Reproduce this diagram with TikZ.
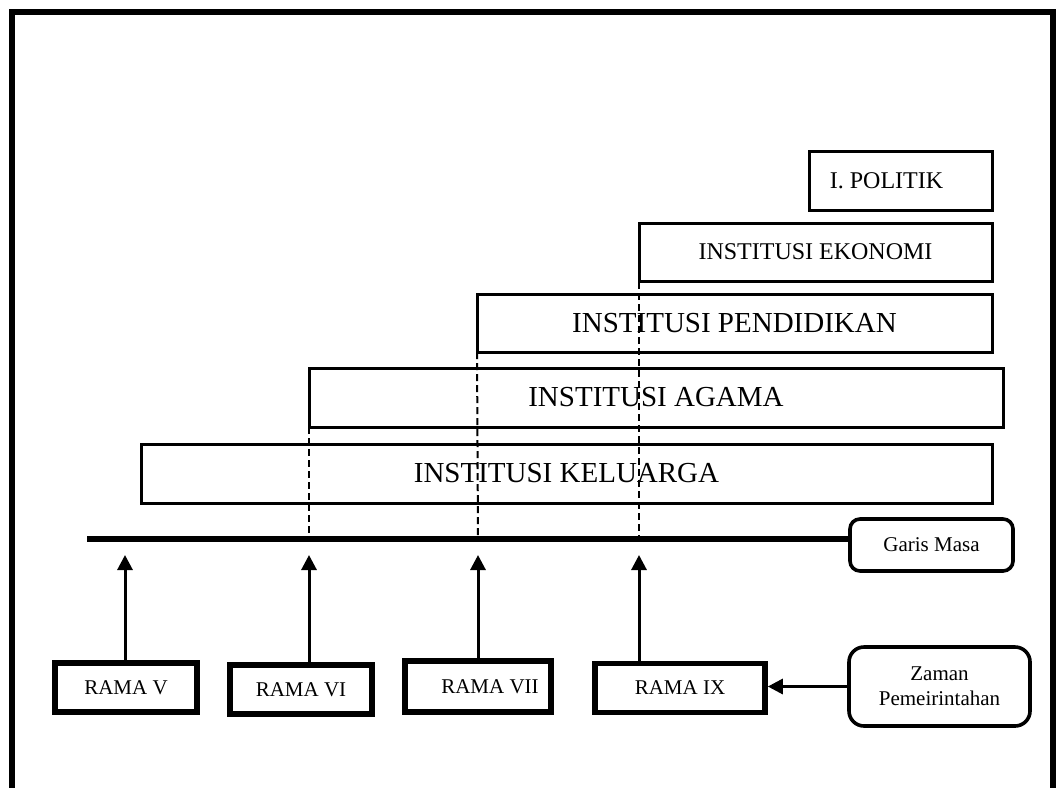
\documentclass[tikz,border=0pt]{standalone}
\usepackage{fontspec}
\setmainfont{Liberation Serif}
\usepackage{tikz}
\usetikzlibrary{arrows.meta,calc}

\begin{document}
\begin{tikzpicture}[x=0.5pt,y=-0.5pt,
  inst/.style={draw,line width=1.5pt,inner sep=0pt,outer sep=0pt,
    font=\fontsize{14.5}{17}\selectfont},
  rama/.style={draw,line width=2.8pt,minimum height=24.5pt,inner sep=0pt,
    font=\fontsize{10.5}{12}\selectfont},
  note/.style={draw,line width=1.8pt,inner sep=0pt,align=center,
    font=\fontsize{10.5}{12.5}\selectfont},
  up/.style={line width=1.5pt,-{Triangle[width=7.5pt,length=7.5pt]}},
  guide/.style={dash pattern=on 3.5pt off 2pt,line width=1pt}]
\useasboundingbox (0,0) rectangle (1063,787);
\draw[line width=2.8pt] (12,800) -- (12,12) -- (1053,12) -- (1053,800);

% institusi
\node[inst,minimum width=91.5pt,minimum height=29.5pt,font=\fontsize{12}{14}\selectfont] (politik) at (900.5,180.5) {I. POLITIK\hspace*{14pt}};
\node[inst,minimum width=176.5pt,minimum height=29pt,font=\fontsize{12}{14}\selectfont] (ekonomi) at (815.5,252) {INSTITUSI EKONOMI};
\node[inst,minimum width=257.5pt,minimum height=29pt] (pendidikan) at (734.5,323) {INSTITUSI PENDIDIKAN};
\node[inst,minimum width=347pt,minimum height=29.5pt] (agama) at (656,397.5) {INSTITUSI AGAMA};
\node[inst,minimum width=425.5pt,minimum height=29.5pt] (keluarga) at (566.5,473.5) {INSTITUSI KELUARGA};

% garis masa
\node[note,rounded corners=5pt,minimum width=81.5pt,minimum height=26pt] (garis) at (931.5,545) {Garis Masa};
\coordinate (mula) at (87,539);
\coordinate (t5) at (125,539);
\coordinate (t6) at (309,539);
\coordinate (t7) at (478,539);
\coordinate (t9) at (639,539);
\draw[line width=2.8pt] (mula) -- (garis.west |- mula);

\draw[guide] (agama.south west) -- (t6);
\draw[guide] (pendidikan.south west) -- (t7);
\draw[guide] ([yshift=5pt]ekonomi.south west) -- (t9);

% pemerintahan
\node[rama,minimum width=71pt] (rama5) at (126,687.5) {RAMA V};
\node[rama,minimum width=71pt] (rama6) at (301,689.5) {RAMA VI};
\node[rama,minimum width=73pt,minimum height=25.5pt] (rama7) at (478,686.5) {\hspace*{12pt}RAMA VII};
\node[rama,minimum width=85pt] (rama9) at (680,688) {RAMA IX};
\node[note,rounded corners=7.5pt,minimum width=90.5pt,minimum height=39.5pt] (zaman) at (939.5,686.5) {Zaman\\Pemeirintahan};

\draw[up] (rama5.north -| t5) -- ([yshift=-8pt]t5);
\draw[up] (rama6.north -| t6) -- ([yshift=-8pt]t6);
\draw[up] (rama7.north -| t7) -- ([yshift=-8pt]t7);
\draw[up] (rama9.north -| t9) -- ([yshift=-8pt]t9);
\draw[up] (zaman.west) -- (rama9.east |- zaman.west);
\end{tikzpicture}
\end{document}
